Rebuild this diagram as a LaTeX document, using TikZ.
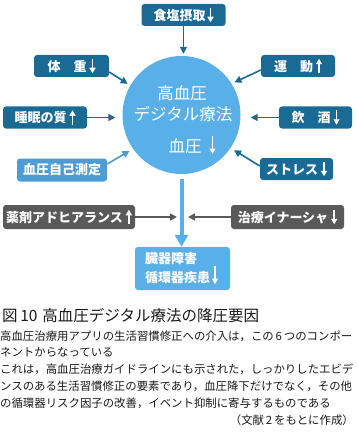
\documentclass[tikz,border=0pt]{standalone}
\usepackage{fontspec}
\setmainfont{Noto Sans CJK JP}
\usetikzlibrary{arrows.meta}
\definecolor{dblue}{HTML}{1A6A96}
\definecolor{lblue}{HTML}{59B0E8}
\definecolor{mblue}{HTML}{4D9CD3}
\definecolor{gbox}{HTML}{595959}
\definecolor{txt}{HTML}{1A1A1A}
\newcommand{\mydn}[2][12.5pt]{\tikz[baseline=0pt]\draw[#2,line width=1.5pt,-{Triangle[width=6pt,length=5.5pt]}] (0pt,#1) -- (0pt,-2pt);}
\newcommand{\myup}[2][12.5pt]{\tikz[baseline=0pt]\draw[#2,line width=1.5pt,-{Triangle[width=6pt,length=5.5pt]}] (0pt,-2pt) -- (0pt,#1);}
\begin{document}
\begin{tikzpicture}[x=1pt,y=1pt,
  box/.style={rounded corners=3pt, fill=dblue, text=white, font=\bfseries\fontsize{13}{15}\selectfont, minimum height=22pt, inner sep=0pt},
  gbx/.style={box, fill=gbox, minimum height=24pt},
  ctext/.style={text=white, font=\fontsize{16.5}{18}\selectfont, inner sep=0pt},
  arr/.style={draw=dblue, line width=1.6pt, -{Triangle[width=7pt,length=7pt]}},
  garr/.style={draw=gbox, line width=1.6pt, -{Triangle[width=7pt,length=7pt]}},
  bigarr/.style={draw=lblue, line width=4pt, -{Triangle[width=13pt,length=12pt]}},
  body/.style={anchor=west, inner sep=0pt, text=txt, font=\fontsize{11.4}{12}\selectfont}]
\useasboundingbox (0,0) rectangle (357,-433);

% circle
\node[circle, fill=lblue, minimum size=118pt, inner sep=0pt] (c) at (181.5,-115) {};
\node[ctext] (c1) at (182,-93) {高血圧};
\node[ctext] (c2) at (183,-114.5) {デジタル療法};
\node[ctext] (c3) at (192,-145) {血圧\hspace{8pt}\mydn[16pt]{white}};

% boxes
\node[box, minimum width=84pt] (salt) at (183.5,-15) {食塩摂取\hspace{2pt}\mydn{white}};
\node[box, minimum width=75pt] (tw) at (71.5,-66) {体　重\hspace{3pt}\mydn{white}};
\node[box, minimum width=74pt] (ex) at (298,-66) {運　動\hspace{3pt}\myup{white}};
\node[box, minimum width=84pt] (sl) at (45,-117.5) {睡眠の質\hspace{3pt}\myup{white}};
\node[box, minimum width=73pt] (al) at (315.5,-117.5) {飲　酒\hspace{3pt}\mydn{white}};
\node[box, fill=mblue, minimum width=90pt, minimum height=23pt] (bp) at (62,-170) {血圧自己測定};
\node[box, minimum width=73pt] (st) at (296.5,-169) {ストレス\hspace{3pt}\mydn{white}};
\node[gbx, minimum width=132pt] (ad) at (69,-217) {薬剤アドヒアランス\hspace{3pt}\myup{white}};
\node[gbx, minimum width=113pt] (in) at (287.5,-217) {治療イナーシャ\hspace{3pt}\mydn{white}};
\node[box, fill=lblue, text width=75pt, inner xsep=10pt, minimum height=43pt, align=left, font=\bfseries\fontsize{13}{16}\selectfont] (cv) at (182.5,-268.5) {臓器障害\\循環器疾患\hspace{2pt}\mydn[16pt]{white}};

% connectors
\draw[arr, shorten >=2pt] (salt.south) -- (salt.south |- c.north);
\draw[arr, shorten >=3pt] ([yshift=-6pt]tw.east) -- (c.150);
\draw[arr, shorten >=3pt] ([yshift=-4pt]ex.west) -- (c.32);
\draw[arr, shorten >=7pt] (sl.east) -- (sl.east -| c.west);
\draw[arr, shorten >=10pt] (al.west) -- (al.west -| c.east);
\draw[arr, draw=mblue, shorten >=4pt] ([yshift=6pt]bp.east) -- (c.215);
\draw[arr, shorten >=4pt] ([yshift=3pt]st.west) -- (c.326);
\draw[bigarr, shorten <=5pt] (c.south) -- (c.south |- cv.north);
\coordinate (jl) at (177,-217);
\coordinate (jr) at (188,-217);
\draw[garr] (ad) -- (jl);
\draw[garr] (in) -- (jr);

% caption
\node[anchor=west, inner sep=0pt, text=txt, font=\fontsize{15.5}{16}\selectfont] (cap) at (2,-316) {図\,10\hspace{5pt}高血圧デジタル療法の降圧要因};
\node[body] (t1) at (0,-336) {高血圧治療用アプリの生活習慣修正への介入は，この\,6\,つのコンポー};
\node[body] (t2) at (0,-352.5) {ネントからなっている};
\node[body] (t3) at (0,-369) {これは，高血圧治療ガイドラインにも示された，しっかりしたエビデ};
\node[body] (t4) at (0,-386) {ンスのある生活習慣修正の要素であり，血圧降下だけでなく，その他};
\node[body] (t5) at (0,-403) {の循環器リスク因子の改善，イベント抑制に寄与するものである};
\node[body, anchor=east] (t6) at (354,-420) {（文献\,2\,をもとに作成）};
\end{tikzpicture}
\end{document}
